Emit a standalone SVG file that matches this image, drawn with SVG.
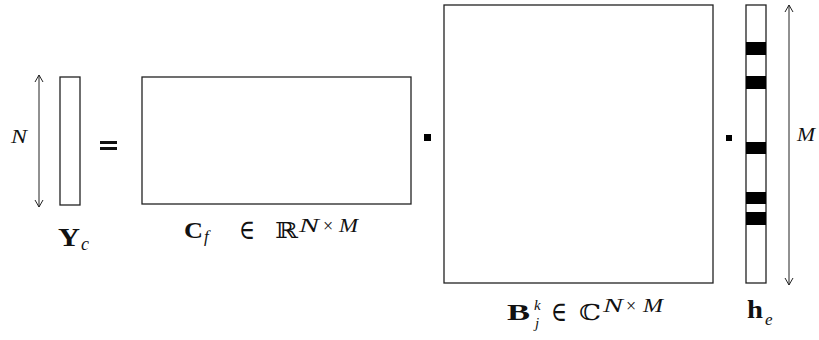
<svg xmlns="http://www.w3.org/2000/svg" width="819" height="340" viewBox="0 0 819 340">
<defs>
<style>
.box{fill:#fff;stroke:#222;stroke-width:1.3}
.bar{fill:#000}
.dim{stroke:#222;stroke-width:1;fill:none}
.t{font-family:"Liberation Serif","DejaVu Serif",serif;fill:#111}
.b{font-weight:bold}
.i{font-style:italic}
.bb{font-family:"DejaVu Serif","Noto Sans",serif;fill:#111}
</style>
<marker id="ah" viewBox="0 0 10 10" refX="10" refY="5" markerWidth="10" markerHeight="10" markerUnits="userSpaceOnUse" orient="auto-start-reverse">
<path d="M3,1 L10,5 L3,9" fill="none" stroke="#222" stroke-width="1"/>
</marker>
</defs>
<rect width="819" height="340" fill="#fff"/>

<g id="connectors">
<line class="dim" x1="39" y1="75" x2="39" y2="207" marker-start="url(#ah)" marker-end="url(#ah)"/>
<line class="dim" x1="789" y1="5" x2="789" y2="285" marker-start="url(#ah)" marker-end="url(#ah)"/>
</g>

<g id="Yc">
<rect class="box" x="60" y="77" width="20" height="128"/>
<text class="t i" x="11" y="143" font-size="18" textLength="16" lengthAdjust="spacingAndGlyphs">N</text>
<text class="t b" x="58" y="246" font-size="26" textLength="22" lengthAdjust="spacingAndGlyphs">Y</text>
<text class="t i" x="81" y="250" font-size="18">c</text>
</g>

<g id="equals">
<rect x="100" y="141" width="17" height="3" fill="#111"/>
<rect x="100" y="147" width="17" height="3" fill="#111"/>
</g>

<g id="Cf">
<rect class="box" x="142" y="77" width="269" height="127"/>
<text class="t b" x="184" y="238" font-size="23" textLength="19" lengthAdjust="spacingAndGlyphs">C</text>
<text class="t i" x="204" y="242" font-size="17">f</text>
<text class="bb" x="239" y="239" font-size="28" textLength="16" lengthAdjust="spacingAndGlyphs">∈</text>
<text class="bb" x="275" y="238" font-size="22" textLength="23" lengthAdjust="spacingAndGlyphs">ℝ</text>
<text class="t i" x="299" y="232" font-size="19" textLength="20" lengthAdjust="spacingAndGlyphs">N</text>
<text class="t" x="323" y="232" font-size="18">×</text>
<text class="t i" x="339" y="232" font-size="19" textLength="19" lengthAdjust="spacingAndGlyphs">M</text>
</g>

<g id="dot1"><rect x="424" y="134" width="7" height="7" fill="#000"/></g>

<g id="Bjk">
<rect class="box" x="444" y="5" width="269" height="278"/>
<text class="t b" x="507" y="320" font-size="23" textLength="23" lengthAdjust="spacingAndGlyphs">B</text>
<text class="t i" x="534" y="310" font-size="15">k</text>
<text class="t i" x="535" y="328" font-size="15">j</text>
<text class="bb" x="551" y="321" font-size="28" textLength="16" lengthAdjust="spacingAndGlyphs">∈</text>
<text class="bb" x="579" y="320" font-size="22" textLength="22" lengthAdjust="spacingAndGlyphs">ℂ</text>
<text class="t i" x="603" y="312" font-size="19" textLength="20" lengthAdjust="spacingAndGlyphs">N</text>
<text class="t" x="626" y="312" font-size="18">×</text>
<text class="t i" x="643" y="312" font-size="19" textLength="20" lengthAdjust="spacingAndGlyphs">M</text>
</g>

<g id="dot2"><rect x="726" y="135" width="6" height="6" fill="#000"/></g>

<g id="he">
<rect class="box" x="746" y="5" width="20" height="278"/>
<rect class="bar" x="746" y="42" width="20" height="13"/>
<rect class="bar" x="746" y="76" width="20" height="13"/>
<rect class="bar" x="746" y="142" width="20" height="12"/>
<rect class="bar" x="746" y="192" width="20" height="12"/>
<rect class="bar" x="746" y="212" width="20" height="13"/>
<text class="t b" x="747" y="318" font-size="25" textLength="16" lengthAdjust="spacingAndGlyphs">h</text>
<text class="t i" x="765" y="325" font-size="17">e</text>
<text class="t i" x="797" y="141" font-size="18" textLength="18" lengthAdjust="spacingAndGlyphs">M</text>
</g>
</svg>
